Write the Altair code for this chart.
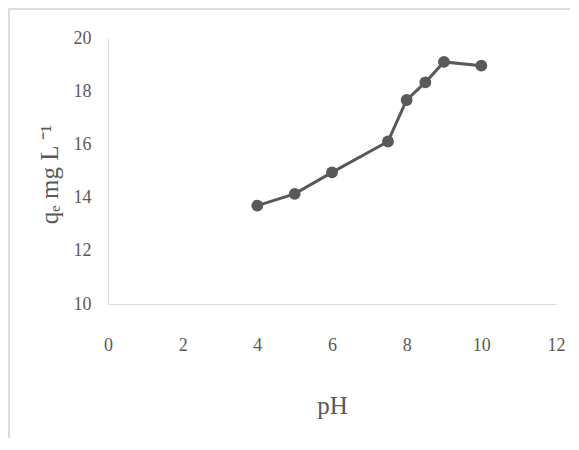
import altair as alt
import pandas as pd

ph = [4, 5, 6, 7.5, 8, 8.5, 9, 10]
qe = [13.70, 14.14, 14.95, 16.11, 17.67, 18.33, 19.10, 18.96]
x_ticks = [0, 2, 4, 6, 8, 10, 12]
y_ticks = [10, 12, 14, 16, 18, 20]

df = pd.DataFrame({"pH": ph, "qe": qe})

W, H = 448, 266
TXT = "#595959"
LBL_FONT = "Liberation Sans Narrow"
TITLE_FONT = "Liberation Serif"

base = alt.Chart(df).encode(
    x=alt.X("pH:Q",
            scale=alt.Scale(domain=[0, 12], nice=False, zero=False),
            axis=alt.Axis(values=x_ticks, title="pH", grid=False, ticks=False,
                          domainColor="#d9d9d9", domainWidth=1.2,
                          labelFont=LBL_FONT, labelFontSize=18, labelColor=TXT,
                          labelPadding=32, labelFlush=False,
                          titleFont=TITLE_FONT, titleFontSize=25, titleFontWeight="normal",
                          titleColor=TXT, titleX=W / 2, titleY=101, titleBaseline="middle")),
    y=alt.Y("qe:Q",
            scale=alt.Scale(domain=[10, 20], nice=False, zero=False),
            axis=alt.Axis(values=y_ticks, title="qₑ mg L ⁻¹", grid=False, ticks=False,
                          domainColor="#d9d9d9", domainWidth=1.2,
                          labelFont=LBL_FONT, labelFontSize=18, labelColor=TXT,
                          labelPadding=17, labelFlush=False,
                          titleFont=TITLE_FONT, titleFontSize=25, titleFontWeight="normal",
                          titleColor=TXT, titleAngle=-90, titleX=-59, titleY=136,
                          titleBaseline="middle")),
)

line = base.mark_line(color="#595959", strokeWidth=3)
pts = base.mark_circle(color="#595959", size=140, opacity=1)

frame_top = alt.Chart(df).mark_rule(color="#dddddd", strokeWidth=2).encode(
    x=alt.value(-99), x2=alt.value(470), y=alt.value(-29))
frame_left = alt.Chart(df).mark_rule(color="#dddddd", strokeWidth=2).encode(
    x=alt.value(-99), y=alt.value(-30), y2=alt.value(410))

chart = alt.layer(frame_top, frame_left, line, pts).properties(
    width=W, height=H,
    autosize=alt.AutoSizeParams(type="none"),
    padding={"left": 100, "top": 30, "right": 14, "bottom": 134},
).configure_view(stroke=None)

chart.save("out.html", embed_options={"renderer": "svg", "actions": False})
